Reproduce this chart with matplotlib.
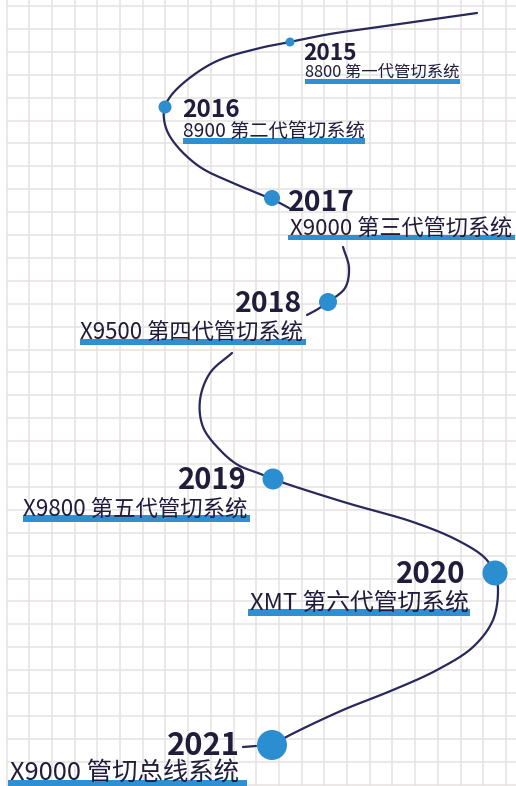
import numpy as np
import matplotlib
matplotlib.use("Agg")
import matplotlib.pyplot as plt

plt.rcParams['font.family'] = ['Noto Sans CJK SC', 'DejaVu Sans']

# ---- data ----
years = ["2015", "2016", "2017", "2018", "2019", "2020", "2021"]
products = ["8800 第一代管切系统", "8900 第二代管切系统", "X9000 第三代管切系统",
            "X9500 第四代管切系统", "X9800 第五代管切系统", "XMT 第六代管切系统",
            "X9000 管切总线系统"]

# ---- layout (pixel coordinates, y downward) ----
dot_x = [290, 165, 272, 328, 273, 495, 272]
dot_y = [42, 107, 198, 302, 479, 573, 745]
dot_r = [4.5, 6.5, 8, 9, 10.5, 12.5, 15]
year_x = [303, 182, 288, 302, 247, 465, 240]
year_y = [53, 110, 203, 304, 480, 574, 746]
year_ha = ["left", "left", "left", "right", "right", "right", "right"]
year_w = [54, 58, 67, 67, 69, 70, 73]
sub_x0 = [305, 183, 290, 80, 23, 250, 10]
sub_x1 = [460, 365, 513, 304, 248, 470, 240]
sub_y = [72.5, 131.5, 228.5, 332.5, 509.5, 603.5, 773.5]
bar_x0 = [305, 183, 288, 80, 23, 248, 8]
bar_x1 = [460, 365, 515, 306, 250, 470, 247]
bar_y = [81.5, 141, 237.5, 341.5, 518.5, 612, 783]
bar_h = [5, 6, 5.5, 6, 6.5, 7, 7]

# curve waypoints (pixel coords), drawn in visible pieces
curve_pieces = [
    ([477, 393, 330, 290, 260, 217, 187, 170, 164, 166, 176, 200, 233, 262, 272, 289],
     [13, 25, 34, 42, 48, 61, 80, 97, 110, 128, 145, 167, 183, 195, 199, 208]),
    ([343, 349, 345, 328, 318, 307],
     [247, 268, 288, 302, 309, 315]),
    ([232, 210, 200, 203, 220, 238, 258, 273, 287, 347, 413, 457, 485, 495, 498, 493, 473, 437, 393, 343, 290, 272],
     [353, 373, 400, 427, 450, 465, 473, 479, 484, 503, 522, 540, 558, 574, 590, 620, 647, 670, 690, 710, 735, 745]),
    ([243, 256], [747, 746]),
]

LINE_C = "#28285a"
DOT_C = "#2b8ed0"
BAR_C = "#2e8fd2"
TEXT_C = "#1f1d3a"
GRID_C = "#e8e1e1"

W, H = 516, 786
fig = plt.figure(figsize=(W / 100, H / 100), dpi=100)
ax = fig.add_axes([0, 0, 1, 1])
ax.set_xlim(0, W)
ax.set_ylim(H, 0)
ax.axis("off")

# grid
gx = np.arange(6.5, W + 1, 22.7)
gy = np.arange(6, H + 1, 22.9)
for x in gx:
    ax.plot([x, x], [0, H], color=GRID_C, lw=1.1, zorder=0)
for y in gy:
    ax.plot([8, W], [y, y], color=GRID_C, lw=1.1, zorder=0)


def catmull(xs, ys, n=24, alpha=0.5):
    p = np.column_stack([xs, ys]).astype(float)
    p = np.vstack([p[0] * 2 - p[1], p, p[-1] * 2 - p[-2]])
    out = []
    for i in range(1, len(p) - 2):
        p0, p1, p2, p3 = p[i - 1], p[i], p[i + 1], p[i + 2]
        t0 = 0.0
        t1 = t0 + np.linalg.norm(p1 - p0) ** alpha
        t2 = t1 + np.linalg.norm(p2 - p1) ** alpha
        t3 = t2 + np.linalg.norm(p3 - p2) ** alpha
        t = np.linspace(t1, t2, n)[:, None]
        a1 = (t1 - t) / (t1 - t0) * p0 + (t - t0) / (t1 - t0) * p1
        a2 = (t2 - t) / (t2 - t1) * p1 + (t - t1) / (t2 - t1) * p2
        a3 = (t3 - t) / (t3 - t2) * p2 + (t - t2) / (t3 - t2) * p3
        b1 = (t2 - t) / (t2 - t0) * a1 + (t - t0) / (t2 - t0) * a2
        b2 = (t3 - t) / (t3 - t1) * a2 + (t - t1) / (t3 - t1) * a3
        c = (t2 - t) / (t2 - t1) * b1 + (t - t1) / (t2 - t1) * b2
        out.append(c)
    return np.vstack(out)


for xs, ys in curve_pieces:
    c = catmull(xs, ys)
    ax.plot(c[:, 0], c[:, 1], color=LINE_C, lw=1.6, solid_capstyle="round", zorder=2)

fig.canvas.draw()
renderer = fig.canvas.get_renderer()


def fit_text(x, y, s, target_w, ha, base=14, **kw):
    t = ax.text(x, y, s, ha=ha, va="center", fontsize=base, **kw)
    w = t.get_window_extent(renderer).width
    t.set_fontsize(base * target_w / w)
    return t


for i in range(len(years)):
    ax.add_patch(plt.Rectangle((bar_x0[i], bar_y[i] - bar_h[i] / 2), bar_x1[i] - bar_x0[i], bar_h[i],
                               color=BAR_C, lw=0, zorder=3))
    fit_text(sub_x0[i], sub_y[i], products[i], sub_x1[i] - sub_x0[i], "left",
             color=TEXT_C, zorder=4)
    fit_text(year_x[i], year_y[i], years[i], year_w[i], year_ha[i],
             color=TEXT_C, fontweight="bold", zorder=4)
    ax.add_patch(plt.Circle((dot_x[i], dot_y[i]), dot_r[i], color=DOT_C, lw=0, zorder=5))

fig.savefig("out.png", dpi=100)
